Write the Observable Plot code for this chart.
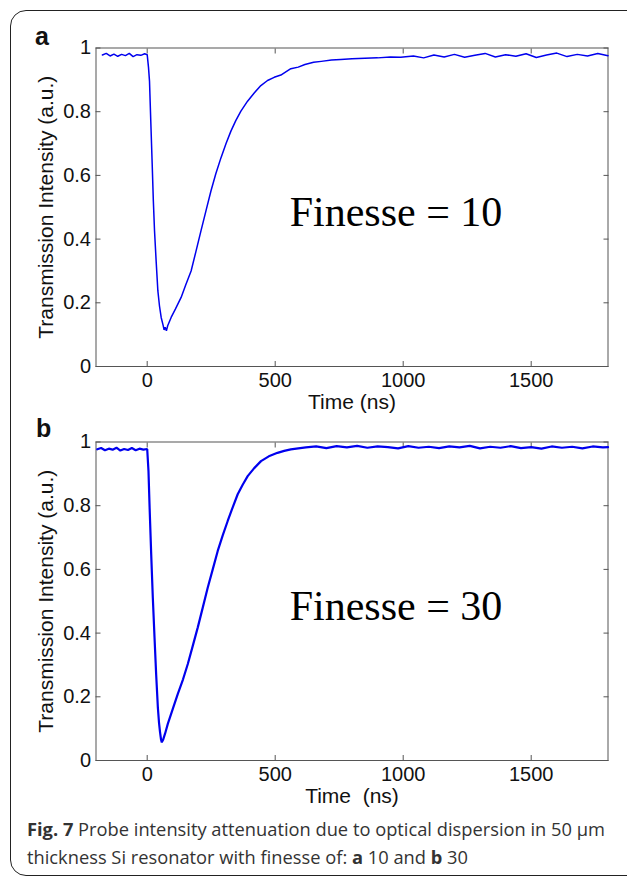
<!DOCTYPE html>
<html>
<head>
<meta charset="utf-8">
<script src="https://cdn.jsdelivr.net/npm/d3@7"></script>
<script src="https://cdn.jsdelivr.net/npm/@observablehq/plot@0.6"></script>
<style>
  html, body { margin: 0; padding: 0; background: #fff; }
  #page { position: relative; width: 627px; height: 879px; overflow: hidden; background: #fff; }
  .border { position: absolute; left: 10px; top: 10px; width: 660px; height: 864px; border: 1.5px solid #222; border-radius: 16px; }
  .lab { position: absolute; font-family: "Liberation Sans", Arial, sans-serif; font-weight: bold; font-size: 25px; line-height: 25px; color: #111; }
  .panel { position: absolute; left: 0; }
  .cap { position: absolute; left: 27px; top: 815px; width: 598px; font-family: "Open Sans", "Noto Sans", sans-serif; font-size: 18.3px; line-height: 28px; color: #333; }
  .cap b { color: #333; }
</style>
</head>
<body>
<div id="page">
  <div class="border"></div>
  <div class="panel" id="pa" style="top:0px"></div>
  <div class="panel" id="pb" style="top:394px"></div>
  <div class="lab" style="left:35px; top:24px">a</div>
  <div class="lab" style="left:36px; top:416px">b</div>
  <div class="cap"><b>Fig. 7</b> Probe intensity attenuation due to optical dispersion in 50&nbsp;μm thickness Si resonator with finesse of: <b>a</b> 10 and <b>b</b> 30</div>
</div>
<script>
// ---- data ----
const xTicks = [0, 500, 1000, 1500];
const yTicks = [0, 0.2, 0.4, 0.6, 0.8, 1];
const xLabelA = "Time (ns)";
const xLabelB = "Time\u00a0 (ns)";
const yLabel = "Transmission Intensity (a.u.)";
const finesseLabels = ["Finesse = 10", "Finesse = 30"];

// Panel a: finesse 10
const timeA = [-175, -160, -145, -130, -115, -100, -85, -70, -55, -40, -25, -10, 0,
  5, 9, 14, 19.5, 24, 28.6, 35, 41.6, 48, 54.6, 62, 66, 70, 75, 80,
  93.5, 110, 132.5, 150, 171.5, 190, 210, 230, 249, 268, 288, 308, 327, 346, 366, 392, 418, 444, 470, 496, 522, 561,
  590, 616, 650, 680, 720, 756, 800, 850, 900, 950, 990,
  1040, 1080, 1120, 1160, 1200, 1240, 1280, 1320, 1360, 1400, 1440, 1480, 1520, 1560, 1600, 1640, 1680, 1720, 1760, 1800];
const valA = [0.978, 0.983, 0.975, 0.981, 0.974, 0.980, 0.976, 0.983, 0.973, 0.979, 0.977, 0.982, 0.979,
  0.94, 0.896, 0.77, 0.635, 0.52, 0.426, 0.33, 0.238, 0.19, 0.154, 0.13, 0.115, 0.123, 0.112, 0.128,
  0.154, 0.18, 0.217, 0.255, 0.30, 0.36, 0.426, 0.49, 0.551, 0.605, 0.655, 0.70, 0.739, 0.772, 0.802, 0.833, 0.859, 0.882, 0.898, 0.908, 0.915, 0.935,
  0.94, 0.948, 0.955, 0.958, 0.962, 0.964, 0.966, 0.968, 0.969, 0.972, 0.971,
  0.975, 0.969, 0.978, 0.972, 0.980, 0.971, 0.977, 0.983, 0.972, 0.979, 0.974, 0.982, 0.970, 0.978, 0.984, 0.973, 0.980, 0.975, 0.983, 0.976];

// Panel b: finesse 30
const timeB = [-195, -180, -165, -150, -135, -120, -105, -90, -75, -60, -45, -30, -15, 0,
  5, 10, 15.6, 22, 28.6, 35, 41.6, 46, 50, 54, 57, 62,
  70, 80.5, 100, 119.6, 140, 158.6, 178, 197.6, 217, 236.6, 256, 275.5, 295, 314.5, 334, 353.5, 373, 392.5, 418, 444.5, 475, 509, 535, 561, 590, 620,
  660, 700, 740, 780, 820, 860, 900, 940, 980, 1020, 1060, 1100, 1140, 1180, 1220, 1260, 1300, 1340, 1380, 1420, 1460, 1500, 1540, 1580, 1620, 1660, 1700, 1740, 1780, 1800];
const valB = [0.977, 0.981, 0.974, 0.979, 0.976, 0.982, 0.973, 0.978, 0.975, 0.981, 0.974, 0.979, 0.976, 0.978,
  0.909, 0.78, 0.648, 0.51, 0.386, 0.27, 0.167, 0.12, 0.09, 0.066, 0.057, 0.065,
  0.085, 0.115, 0.162, 0.209, 0.255, 0.303, 0.36, 0.418, 0.48, 0.543, 0.60, 0.658, 0.707, 0.752, 0.795, 0.836, 0.866, 0.893, 0.918, 0.94, 0.955, 0.966, 0.972, 0.977, 0.980, 0.983,
  0.986, 0.981, 0.987, 0.983, 0.988, 0.982, 0.986, 0.984, 0.980, 0.987, 0.982, 0.985, 0.981, 0.986, 0.983, 0.988, 0.980, 0.985, 0.982, 0.987, 0.981, 0.984, 0.979, 0.986, 0.982, 0.985, 0.980, 0.986, 0.983, 0.984];

// ---- drawing ----
function panel(times, vals, label, xlabel, sw) {
  const rows = times.map((t, i) => ({t, v: vals[i]}));
  const fmt = d3.format("~g");
  return Plot.plot({
    width: 627, height: 420,
    marginLeft: 95.5, marginRight: 19.5, marginTop: 47.5, marginBottom: 54,
    style: {background: "transparent", overflow: "visible", fontFamily: "'Liberation Sans', Arial, sans-serif", color: "#111"},
    x: {domain: [-200, 1800]},
    y: {domain: [0, 1]},
    marks: [
      Plot.axisX({anchor: "bottom", ticks: xTicks, tickSize: -5, tickPadding: 11, fontSize: 20, tickFormat: d => String(d), label: null, stroke: "#555"}),
      Plot.axisX({anchor: "top", ticks: xTicks, tickSize: -5, tickFormat: () => "", label: null, stroke: "#555"}),
      Plot.axisY({anchor: "left", ticks: yTicks, tickSize: -5, tickPadding: 10, fontSize: 20, tickFormat: fmt, label: null, stroke: "#555"}),
      Plot.axisY({anchor: "right", ticks: yTicks, tickSize: -5, tickFormat: () => "", label: null, stroke: "#555"}),
      Plot.frame({stroke: "#555", strokeWidth: 1}),
      Plot.line(rows, {x: "t", y: "v", stroke: "#0000ee", strokeWidth: sw, strokeLinejoin: "miter"}),
      Plot.text([label], {x: 972, y: 0.483, text: d => d, fontFamily: "'Liberation Serif', 'Times New Roman', serif", fontSize: 42, fill: "#000"}),
      Plot.text([xlabel], {frameAnchor: "bottom", dy: 42, text: d => d, fontSize: 21, fill: "#111"}),
      Plot.text([yLabel], {frameAnchor: "left", textAnchor: "middle", dx: -49.5, rotate: -90, text: d => d, fontSize: 21, fill: "#111"})
    ]
  });
}

document.getElementById("pa").appendChild(panel(timeA, valA, finesseLabels[0], xLabelA, 1.5));
document.getElementById("pb").appendChild(panel(timeB, valB, finesseLabels[1], xLabelB, 2.2));
</script>
</body>
</html>
